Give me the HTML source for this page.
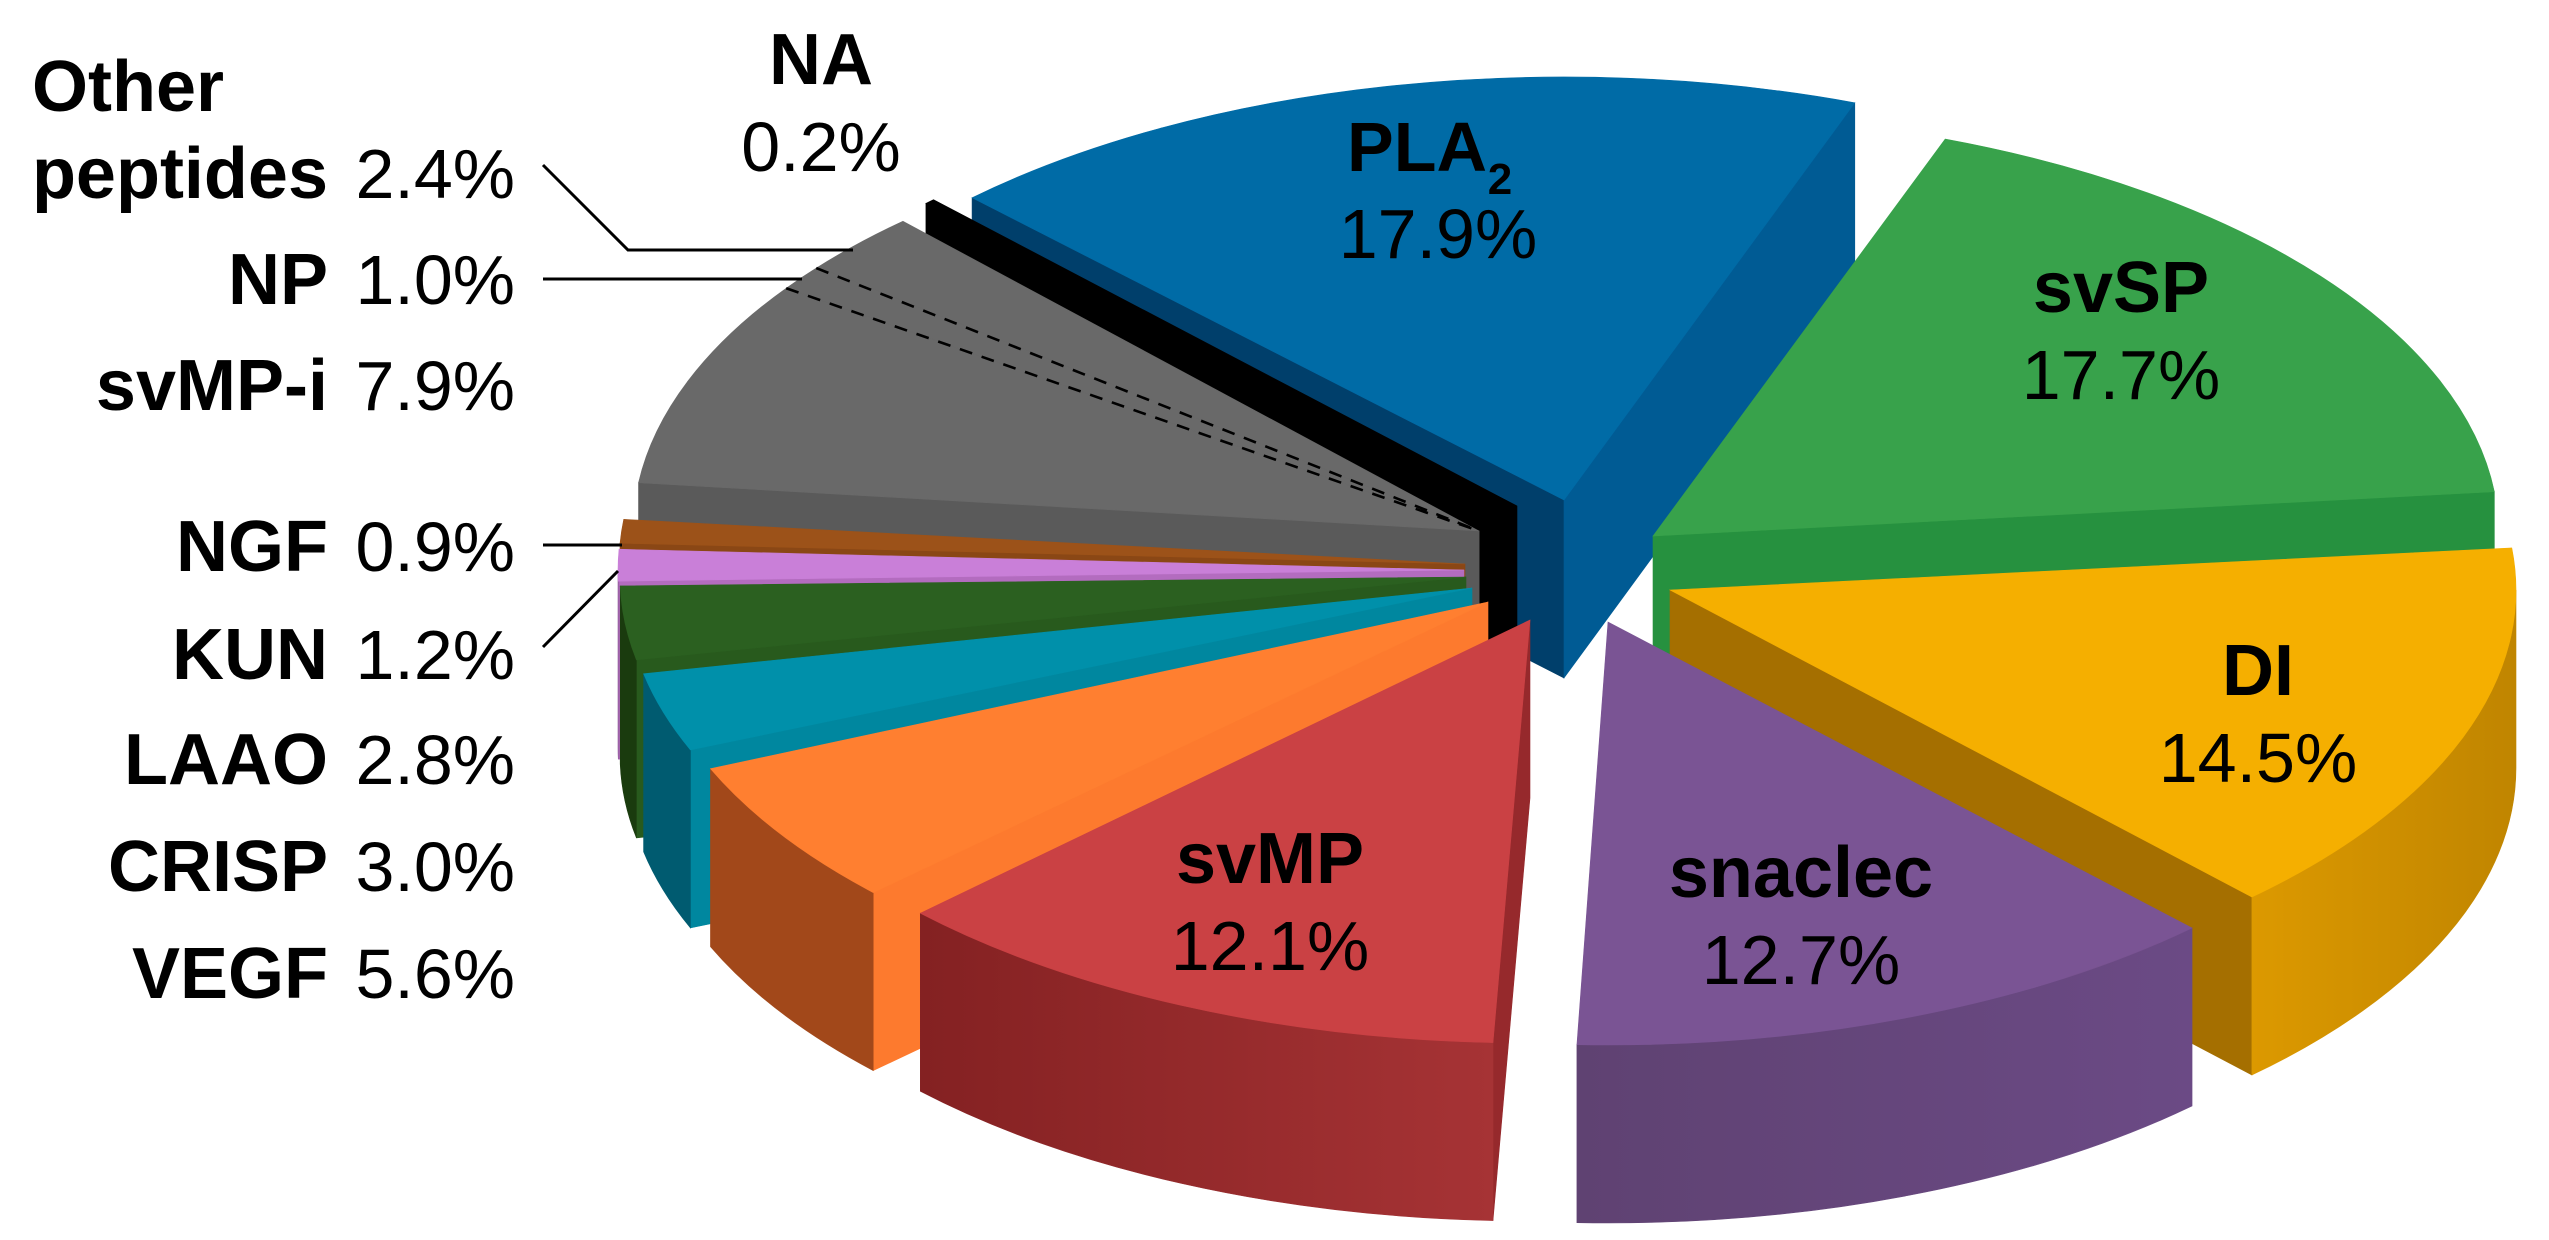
<!DOCTYPE html>
<html lang="en">
<head>
<meta charset="utf-8">
<title>Venom composition 3D pie chart</title>
<style>
html,body{margin:0;padding:0;background:#fff;}
svg{display:block;}
text{font-family:"Liberation Sans",Arial,sans-serif;fill:#000;}
</style>
</head>
<body>
<svg id="chart" xmlns="http://www.w3.org/2000/svg" width="2549" height="1240" viewBox="0 0 2549 1240">
<defs id="grads"></defs>
<rect x="0" y="0" width="2549" height="1240" fill="#ffffff"/>
<g id="marks"></g>
<g id="labels"></g>
<g fill="none" stroke="#000" stroke-width="3">
<polyline points="543,165 628,250 853,250"/>
<line x1="543" y1="279" x2="802" y2="279"/>
<line x1="543" y1="545" x2="622" y2="545"/>
<line x1="543" y1="647" x2="618" y2="571"/>
</g>
</svg>
<script>
const categories = ['PLA2','svSP','DI','snaclec','svMP','VEGF','CRISP','LAAO','KUN','NGF','svMP-i','NP','Other peptides','NA'];
const values = [17.9,17.7,14.5,12.7,12.1,5.6,3.0,2.8,1.2,0.9,7.9,1.0,2.4,0.2];

const NS = 'http://www.w3.org/2000/svg';
const CX = 1580, CY = 565, RX = 846, RY = 423, DEPTH = 178, START_DEG = 226;

/* Explosion offset, small wedge rotation and colouring per slice, by category */
const sliceStyle = {
  'PLA2':   {dx:-16, dy:-65, turn:-0.4, top:'#006ba6', start:'#003f6b', end:'#005b94', rimL:'#005b94', rimR:'#005b94'},
  'svSP':   {dx:73,  dy:-29, turn:-0.3, top:'#38a24b', start:'#26913f', end:'#26913f', rimL:'#26913f', rimR:'#26913f'},
  'DI':     {dx:90,  dy:25,  turn:0,    top:'#f5af00', start:'#a56f00', end:'#a56f00', rimL:'#dc9900', rimR:'#c08500'},
  'snaclec':{dx:28,  dy:57,  turn:-0.2, top:'#7a5494', start:'#5f4272', end:'#5f4272', rimL:'#5f4272', rimR:'#6b4a85'},
  'svMP':   {dx:-50, dy:55,  turn:0.2,  top:'#ca4144', start:'#96292c', end:'#96292c', rimL:'#842122', rimR:'#a63335'},
  'VEGF':   {dx:-92, dy:37,  turn:0.7,  top:'#ff7f30', start:'#fd7a2e', end:'#fd7a2e', rimL:'#a2481a', rimR:'#a2481a'},
  'CRISP':  {dx:-108,dy:23,  turn:1.4,  top:'#0090aa', start:'#00879f', end:'#00879f', rimL:'#005b70', rimR:'#005b70'},
  'LAAO':   {dx:-114,dy:12,  turn:1.8,  top:'#2b6020', start:'#285a1d', end:'#285a1d', rimL:'#1a3b0e', rimR:'#1a3b0e'},
  'KUN':    {dx:-116,dy:5,   turn:1.5,  top:'#c97fd8', start:'#b36cbf', end:'#b36cbf', rimL:'#8c5a96', rimR:'#8c5a96'},
  'NGF':    {dx:-115,dy:-1,  turn:1.5,  top:'#9c5219', start:'#8a4715', end:'#8a4715', rimL:'#7a3f12', rimR:'#7a3f12'},
  'svMP-i': {dx:-101,dy:-34, turn:2.0,  top:'#696969', start:'#5a5a5a', end:'#5a5a5a', rimL:'#4a4a4a', rimR:'#4a4a4a'},
  'NP':     {dx:-101,dy:-34, turn:2.0,  top:'#696969', start:'#5a5a5a', end:'#5a5a5a', rimL:'#4a4a4a', rimR:'#4a4a4a'},
  'Other peptides':{dx:-101,dy:-34, turn:1.8, top:'#696969', start:'#5a5a5a', end:'#5a5a5a', rimL:'#4a4a4a', rimR:'#4a4a4a'},
  'NA':     {dx:-63, dy:-59, turn:0.4,  top:'#000000', start:'#000000', end:'#000000', rimL:'#000000', rimR:'#000000'}
};

/* Back-to-front painting order */
const paintOrder = ['PLA2','svSP','DI','snaclec','NA','Other peptides','NP','svMP-i','NGF','KUN','LAAO','CRISP','VEGF','svMP'];

const total = values.reduce(function(a,b){return a+b;},0);

/* Axis functions: value -> sweep angle, angle -> ellipse point */
function sweepOf(v){ return v/total*360; }
function startAngleOf(i){
  let c = 0;
  for(let k=0;k<i;k++){ c += values[k]; }
  return START_DEG + c/total*360 + sliceStyle[categories[i]].turn;
}
function apexOf(key){ const s = sliceStyle[key]; return {x:CX+s.dx, y:CY+s.dy}; }
function rimPoint(key,deg){
  const a = apexOf(key), t = deg*Math.PI/180;
  return {x:a.x+RX*Math.cos(t), y:a.y+RY*Math.sin(t)};
}
function fmt(p){ return p.x.toFixed(2)+' '+p.y.toFixed(2); }
function down(p){ return {x:p.x, y:p.y+DEPTH}; }

const marks = document.getElementById('marks');
const grads = document.getElementById('grads');

function addPath(d,fill){
  const el = document.createElementNS(NS,'path');
  el.setAttribute('d',d);
  el.setAttribute('fill',fill);
  el.setAttribute('stroke',fill);
  el.setAttribute('stroke-width','0.6');
  marks.appendChild(el);
  return el;
}

function slug(key){ return key.toLowerCase().replace(/[^a-z0-9]+/g,'-'); }

function drawCutWall(key,deg,fill,which){
  const a = apexOf(key), r = rimPoint(key,deg);
  const d = 'M'+fmt(a)+' L'+fmt(r)+' L'+fmt(down(r))+' L'+fmt(down(a))+' Z';
  const el = addPath(d,fill);
  
  
}

function drawRimWall(key,s,e,style){
  const ranges = [[0,180],[360,540]];
  ranges.forEach(function(rg){
    const a0 = Math.max(s,rg[0]), a1 = Math.min(e,rg[1]);
    if(a1<=a0){ return; }
    const p0 = rimPoint(key,a0), p1 = rimPoint(key,a1);
    const gid = 'rim-'+slug(key)+'-'+rg[0];
    const g = document.createElementNS(NS,'linearGradient');
    g.setAttribute('id',gid);
    g.setAttribute('gradientUnits','userSpaceOnUse');
    g.setAttribute('x1',Math.min(p0.x,p1.x));
    g.setAttribute('x2',Math.max(p0.x,p1.x));
    g.setAttribute('y1','0');
    g.setAttribute('y2','0');
    const s0 = document.createElementNS(NS,'stop');
    s0.setAttribute('offset','0');
    s0.setAttribute('stop-color',style.rimL);
    const s1 = document.createElementNS(NS,'stop');
    s1.setAttribute('offset','1');
    s1.setAttribute('stop-color',style.rimR);
    g.appendChild(s0);
    g.appendChild(s1);
    grads.appendChild(g);
    const d = 'M'+fmt(p0)+' A'+RX+' '+RY+' 0 0 1 '+fmt(p1)+
              ' L'+fmt(down(p1))+' A'+RX+' '+RY+' 0 0 0 '+fmt(down(p0))+' Z';
    const el = addPath(d,'url(#'+gid+')');
    
    
  });
}

function drawSlice(key){
  const i = categories.indexOf(key);
  const st = sliceStyle[key];
  let s = startAngleOf(i) % 360;
  const e = s + sweepOf(values[i]);
  if(Math.cos(s*Math.PI/180) < 0){ drawCutWall(key,s,st.start,'start'); }
  if(Math.cos(e*Math.PI/180) > 0){ drawCutWall(key,e,st.end,'end'); }
  drawRimWall(key,s,e,st);
  const a = apexOf(key), p0 = rimPoint(key,s), p1 = rimPoint(key,e);
  const large = (e-s)>180 ? 1 : 0;
  const d = 'M'+fmt(a)+' L'+fmt(p0)+' A'+RX+' '+RY+' 0 '+large+' 1 '+fmt(p1)+' Z';
  const el = addPath(d,st.top);
  
  
}

paintOrder.forEach(drawSlice);

/* Dashed separators inside the grey group: edges of the NP slice */
['NP','Other peptides'].forEach(function(key){
  const i = categories.indexOf(key);
  const a = apexOf(key), r = rimPoint(key,startAngleOf(i));
  const ln = document.createElementNS(NS,'line');
  ln.setAttribute('x1',r.x);
  ln.setAttribute('y1',r.y);
  ln.setAttribute('x2',a.x);
  ln.setAttribute('y2',a.y);
  ln.setAttribute('stroke','#000');
  ln.setAttribute('stroke-width','2.6');
  ln.setAttribute('stroke-dasharray','13 10');
  
  
  marks.appendChild(ln);
});

/* Labels */
const NAME_SIZE = 72, VALUE_SIZE = 70;
const labelsG = document.getElementById('labels');

function addText(x,y,str,bold,anchor,size,name){
  const t = document.createElementNS(NS,'text');
  t.setAttribute('x',x);
  t.setAttribute('y',y);
  t.setAttribute('font-size',size);
  t.setAttribute('font-weight',bold?'700':'400');
  t.setAttribute('text-anchor',anchor);
  t.textContent = str;
  labelsG.appendChild(t);
  
  
  return t;
}

function valueText(key){ return values[categories.indexOf(key)].toFixed(1)+'%'; }

/* Labels placed on the slices: [category, centre x, name baseline, value baseline] */
const onSliceLabels = [
  ['svSP',2121,312,399],
  ['DI',2258,695,782],
  ['snaclec',1801,897,984],
  ['svMP',1270,883,970],
  ['NA',821,84,171]
];
onSliceLabels.forEach(function(l){
  addText(l[1],l[2],l[0],true,'middle',NAME_SIZE,'label-'+slug(l[0]));
  addText(l[1],l[3],valueText(l[0]),false,'middle',VALUE_SIZE,'value-'+slug(l[0]));
});

/* PLA2 has a subscript */
addText(1417,171,'PLA',true,'middle',70,'label-pla');
addText(1500,194,'2',true,'middle',44,'label-pla-subscript');
addText(1438,258,valueText('PLA2'),false,'middle',VALUE_SIZE,'value-pla2');

/* Left column: [category, baseline] */
const sideLabels = [
  ['peptides',198,'Other peptides'],
  ['NP',304,'NP'],
  ['svMP-i',410,'svMP-i'],
  ['NGF',571,'NGF'],
  ['KUN',679,'KUN'],
  ['LAAO',784,'LAAO'],
  ['CRISP',891,'CRISP'],
  ['VEGF',998,'VEGF']
];
addText(32,111,'Other',true,'start',NAME_SIZE,'label-other');
sideLabels.forEach(function(l){
  addText(328,l[1],l[0],true,'end',NAME_SIZE,'label-'+slug(l[2]));
  addText(515,l[1],valueText(l[2]),false,'end',VALUE_SIZE,'value-'+slug(l[2]));
});
</script>
</body>
</html>
